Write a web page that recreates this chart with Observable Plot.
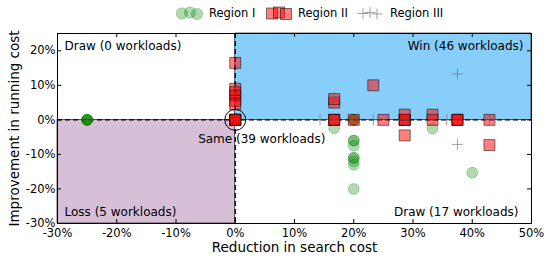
<!DOCTYPE html>
<html><head><meta charset="utf-8">
<script src="https://cdn.jsdelivr.net/npm/d3@7"></script>
<script src="https://cdn.jsdelivr.net/npm/@observablehq/plot@0.6"></script>
<style>
body{margin:0;background:#fff;font-family:"DejaVu Sans",sans-serif;}
#legend{position:relative;height:26px;width:544px;font-size:11.5px;color:#000;}
#legend .sw{position:absolute;top:4px;}
#legend .lb{position:absolute;top:6px;line-height:14px;white-space:nowrap;}
</style></head><body>
<div id="legend"></div>
<div id="chart"></div>
<script>
// ---- data ----
const xTicks = [-30, -20, -10, 0, 10, 20, 30, 40, 50];
const yTicks = [-30, -20, -10, 0, 10, 20];
const xDomain = [-30, 50];
const yDomain = [-30, 25];

const seriesNames = ["Region I", "Region II", "Region III"];

const regionIX = [-25, -25, -25, -25, -25, 16.7, 20, 20, 20, 20, 20, 20, 20, 20, 20, 20, 20, 33.3, 40];
const regionIY = [0, 0, 0, 0, 0, -2.4, 0, 0, 0, -6, -6, -7.5, -11, -11, -12, -13, -20, -2.5, -15.3];

const regionIIX = [0, 0, 0, 0, 0, 0, 0, 0, 0, 0, 0, 16.7, 16.7, 16.7, 16.7, 16.7, 20, 23.3, 25, 28.6, 28.6, 28.6, 28.6, 28.6, 33.3, 33.3, 37.5, 37.5, 37.5, 42.9, 42.9];
const regionIIY = [0, 0, 0, 0, 0, 16.5, 9, 8, 7, 5.5, 4.5, 0, 0, 0, 5, 6, 0, 10, 0, 0, 0, 0, 1.5, -4.5, 1.5, 0, 0, 0, 0, 0, -7.3];

const regionIIIX = [0, 14.3, 16.7, 16.7, 23.3, 28.6, 35.7, 37.5, 37.5, 42.9];
const regionIIIY = [0, 0, 0, 6.5, 0, 0, 0, 13.3, -7.1, 0];

const quadrantNames = ["Win", "Loss", "Draw", "Draw", "Same"];
const quadrantCounts = [46, 5, 0, 17, 39];

// ---- build ----
const toPts = (xs, ys) => xs.map((x, i) => ({x, y: ys[i]}));
const r1 = toPts(regionIX, regionIY);
const r2 = toPts(regionIIX, regionIIY);
const r3 = toPts(regionIIIX, regionIIIY);
const lab = i => `${quadrantNames[i]} (${quadrantCounts[i]} workloads)`;

const W = 544, H = 233, mT = 7, mB = 36, mL = 57, mR = 13;
const fw = W - mL - mR, fh = H - mT - mB;
const pct = d => d + "%";

const quads = [
  {x1: 0, x2: xDomain[1], y1: 0, y2: yDomain[1], fill: "#87CEFA"},
  {x1: xDomain[0], x2: 0, y1: yDomain[0], y2: 0, fill: "#D8BFD8"}
];

const chart = Plot.plot({
  width: W, height: H, marginTop: mT, marginBottom: mB, marginLeft: mL, marginRight: mR,
  style: {fontFamily: "DejaVu Sans", fontSize: "11.5px", background: "white", color: "black"},
  x: {domain: xDomain},
  y: {domain: yDomain},
  marks: [
    Plot.rect(quads, {x1: "x1", x2: "x2", y1: "y1", y2: "y2", fill: "fill", stroke: "black", strokeWidth: 0.6}),
    Plot.ruleX([0], {stroke: "black", strokeWidth: 1.3, strokeDasharray: "5,3"}),
    Plot.ruleY([0], {stroke: "black", strokeWidth: 1.3, strokeDasharray: "5,3"}),
    Plot.dot(r1, {x: "x", y: "y", r: 5.4, symbol: "circle", fill: "green", fillOpacity: 0.3, stroke: "green", strokeOpacity: 0.3, strokeWidth: 1}),
    Plot.dot(r2, {x: "x", y: "y", r: 6.2, symbol: "square", fill: "red", fillOpacity: 0.5, stroke: "black", strokeOpacity: 0.5, strokeWidth: 1}),
    Plot.dot(r3, {x: "x", y: "y", r: 3.7, symbol: "plus", stroke: "#666", strokeOpacity: 0.6, strokeWidth: 1}),
    Plot.dot([{x: 0, y: 0}], {x: "x", y: "y", r: 10.5, fill: "none", stroke: "black", strokeWidth: 1}),
    Plot.frame({stroke: "black", strokeWidth: 1}),
    // inward ticks on all four sides
    Plot.tickX(xTicks, {x: d => d, insetTop: fh - 4, stroke: "black"}),
    Plot.tickX(xTicks, {x: d => d, insetBottom: fh - 4, stroke: "black"}),
    Plot.tickY(yTicks, {y: d => d, insetRight: fw - 4, stroke: "black"}),
    Plot.tickY(yTicks, {y: d => d, insetLeft: fw - 4, stroke: "black"}),
    Plot.axisX({ticks: xTicks, tickSize: 0, tickPadding: 5, tickFormat: pct, label: null}),
    Plot.axisY({ticks: yTicks, tickSize: 0, tickPadding: 2, tickFormat: pct, label: null}),
    // quadrant labels
    Plot.text([lab(2)], {text: d => d, frameAnchor: "top-left", textAnchor: "start", lineAnchor: "middle", dx: 7, dy: 13, fontSize: 12}),
    Plot.text([lab(0)], {text: d => d, frameAnchor: "top-right", textAnchor: "end", lineAnchor: "middle", dx: -8, dy: 13, fontSize: 12}),
    Plot.text([lab(1)], {text: d => d, frameAnchor: "bottom-left", textAnchor: "start", lineAnchor: "middle", dx: 7, dy: -11.3, fontSize: 12}),
    Plot.text([lab(3)], {text: d => d, frameAnchor: "bottom-right", textAnchor: "end", lineAnchor: "middle", dx: -13, dy: -11.3, fontSize: 12}),
    Plot.text([lab(4)], {x: () => 0, y: () => 0, text: d => d, textAnchor: "middle", lineAnchor: "middle", dx: 26.5, dy: 19, fontSize: 12}),
    // axis titles
    Plot.text(["Reduction in search cost"], {text: d => d, frameAnchor: "bottom", lineAnchor: "middle", dy: 24, fontSize: 13.5}),
    Plot.text(["Improvement in running cost"], {text: d => d, frameAnchor: "left", rotate: -90, lineAnchor: "middle", textAnchor: "middle", dx: -43, fontSize: 13.5})
  ]
});
document.getElementById("chart").appendChild(chart);

// ---- legend (HTML) ----
const leg = document.getElementById("legend");
const NS = "http://www.w3.org/2000/svg";
function swatch(left, width, draw) {
  const s = document.createElementNS(NS, "svg");
  s.setAttribute("width", width); s.setAttribute("height", 18);
  s.setAttribute("class", "sw"); s.style.left = left + "px";
  draw(s); leg.appendChild(s);
}
function el(s, tag, attrs) {
  const e = document.createElementNS(NS, tag);
  for (const k in attrs) e.setAttribute(k, attrs[k]);
  s.appendChild(e);
}
const offs = [0.5, -0.5, 1];
swatch(175, 30, s => [7, 15, 22].forEach((cx, i) => el(s, "circle", {cx, cy: 9 + offs[i], r: 5.6, fill: "green", "fill-opacity": 0.3, stroke: "green", "stroke-opacity": 0.3})));
swatch(264, 32, s => [8, 15, 22].forEach((cx, i) => el(s, "rect", {x: cx - 5.5, y: 3.5 + offs[i], width: 11, height: 11, fill: "red", "fill-opacity": 0.5, stroke: "black", "stroke-opacity": 0.5})));
swatch(356, 30, s => [7, 14, 21].forEach((cx, i) => { const cy = 9 + offs[i]; el(s, "path", {d: `M${cx-5.5},${cy}H${cx+5.5}M${cx},${cy-5.5}V${cy+5.5}`, stroke: "#666", "stroke-opacity": 0.6, fill: "none"}); }));
[[209, seriesNames[0]], [298, seriesNames[1]], [390, seriesNames[2]]].forEach(([left, t]) => {
  const d = document.createElement("div"); d.className = "lb"; d.style.left = left + "px"; d.textContent = t; leg.appendChild(d);
});
</script>
</body></html>
